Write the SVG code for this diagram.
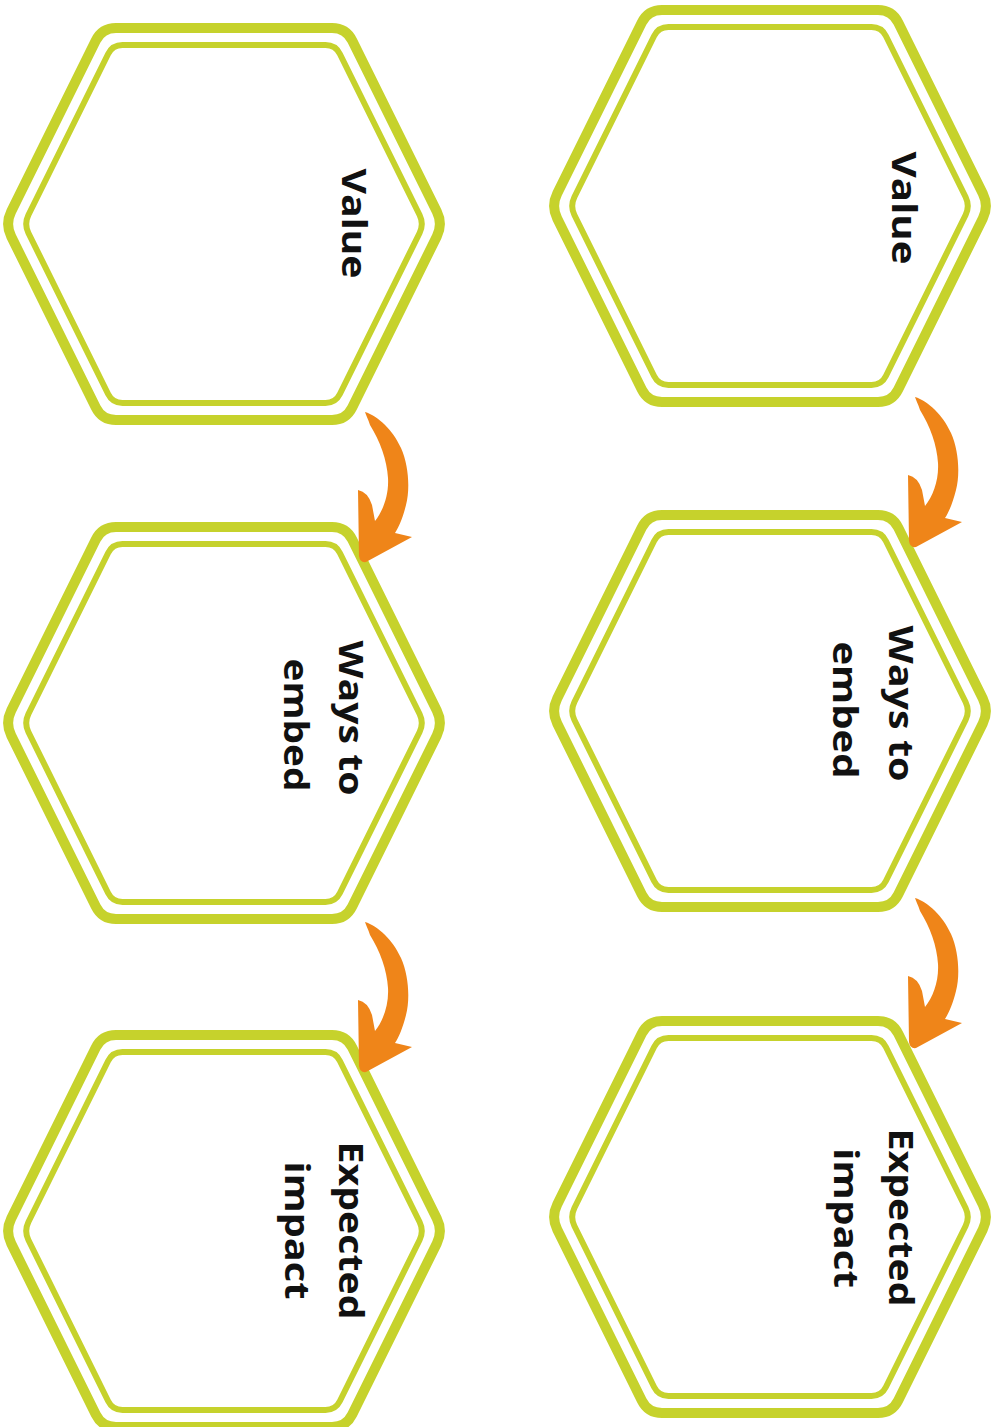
<svg xmlns="http://www.w3.org/2000/svg" xmlns:xlink="http://www.w3.org/1999/xlink" width="999" height="1427" viewBox="0 0 999 1427">
  <style>
    .hex-outer { fill: none; stroke: #c6d22c; stroke-width: 10; stroke-linejoin: round; }
    .hex-inner { fill: none; stroke: #c6d22c; stroke-width: 6; stroke-linejoin: round; }
    .label { font-family: "Open Sans", "Lato", "Liberation Sans", sans-serif; font-weight: 700; font-size: 34px; fill: #111111; text-anchor: middle; }
    .arrow { fill: #ef8519; stroke: none; }
  </style>
  <defs>
    <g id="hex">
      <path class="hex-outer" d="M-212.8,-12.5 L-128.2,-183.5 Q-122,-196 -108,-196 L108,-196 Q122,-196 128.2,-183.5 L212.8,-12.5 Q219,0 212.8,12.5 L128.2,183.5 Q122,196 108,196 L-108,196 Q-122,196 -128.2,183.5 L-212.8,12.5 Q-219,0 -212.8,-12.5 Z"/>
      <path class="hex-inner" d="M-195.6,-9 L-115.9,-170 Q-111.5,-179 -101.5,-179 L101.5,-179 Q111.5,-179 115.9,-170 L195.6,-9 Q200,0 195.6,9 L115.9,170 Q111.5,179 101.5,179 L-101.5,179 Q-111.5,179 -115.9,170 L-195.6,9 Q-200,0 -195.6,-9 Z"/>
    </g>
    <path id="arrow-shape" class="arrow" d="M365,412 C378,416 393,430 401,448 C409,466 410,490 406,505 C403,517 399,527 395,533 L412,537 L366,562 Q360,563 359,556 L358,490 Q368,492 372,505 L375,521 C383,511 389,495 388,478 C387,460 380,441 370,425 C368,419 366,415 365,412 Z"/>
  </defs>
  <rect x="0" y="0" width="999" height="1427" fill="#ffffff"/>

  <g id="left-value">
    <use xlink:href="#hex" href="#hex" transform="translate(224,224)"/>
    <text class="label" transform="translate(342,223.5) rotate(90)" textLength="110" lengthAdjust="spacingAndGlyphs">Value</text>
  </g>
  <g id="left-ways">
    <use xlink:href="#hex" href="#hex" transform="translate(224,723)"/>
    <text class="label" transform="translate(339,718) rotate(90)" textLength="155" lengthAdjust="spacingAndGlyphs">Ways to</text>
    <text class="label" transform="translate(284,725) rotate(90)" textLength="133" lengthAdjust="spacingAndGlyphs">embed</text>
  </g>
  <g id="left-impact">
    <use xlink:href="#hex" href="#hex" transform="translate(224,1231)"/>
    <text class="label" transform="translate(339,1230.5) rotate(90)" textLength="178" lengthAdjust="spacingAndGlyphs">Expected</text>
    <text class="label" transform="translate(285,1230.5) rotate(90)" textLength="138" lengthAdjust="spacingAndGlyphs">impact</text>
  </g>

  <g id="right-value">
    <use xlink:href="#hex" href="#hex" transform="translate(770,206)"/>
    <text class="label" transform="translate(892,208) rotate(90)" textLength="113" lengthAdjust="spacingAndGlyphs">Value</text>
  </g>
  <g id="right-ways">
    <use xlink:href="#hex" href="#hex" transform="translate(770,711)"/>
    <text class="label" transform="translate(889,703.5) rotate(90)" textLength="156" lengthAdjust="spacingAndGlyphs">Ways to</text>
    <text class="label" transform="translate(833,710) rotate(90)" textLength="137" lengthAdjust="spacingAndGlyphs">embed</text>
  </g>
  <g id="right-impact">
    <use xlink:href="#hex" href="#hex" transform="translate(770,1217)"/>
    <text class="label" transform="translate(889,1217.5) rotate(90)" textLength="178" lengthAdjust="spacingAndGlyphs">Expected</text>
    <text class="label" transform="translate(834,1218) rotate(90)" textLength="140" lengthAdjust="spacingAndGlyphs">impact</text>
  </g>

  <g id="connectors">
    <use xlink:href="#arrow-shape" href="#arrow-shape"/>
    <use xlink:href="#arrow-shape" href="#arrow-shape" transform="translate(0,510)"/>
    <use xlink:href="#arrow-shape" href="#arrow-shape" transform="translate(550,-15)"/>
    <use xlink:href="#arrow-shape" href="#arrow-shape" transform="translate(550,486)"/>
  </g>
</svg>
